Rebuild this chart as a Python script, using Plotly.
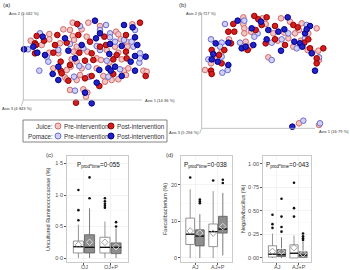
import plotly.graph_objects as go

# ---------------- data ----------------
# PCoA (a): scores (x1000) on Axis 1 / Axis 2
a_juice_pre_x = [-42,5,40,137,-70,-50,-15,88,95,-112,-168,-112,-42,0,-38,102,120,-135,-80,-30,85,122,-112,-85,-40,2,60,95,-45,-30,30,43,68,105,-100,-60,-48,-15,30,112,125,170,180,-65,-20,50,75,95,118,-60,-30,55,-50,-10,2,-2]
a_juice_pre_y = [102,102,92,97,82,80,82,75,67,68,48,52,62,60,50,52,45,35,40,30,30,30,12,10,15,15,20,12,-8,-15,-5,-10,-18,-8,-35,-40,-30,-35,-35,-42,-35,-42,-45,-62,-55,-58,-70,-68,-55,-68,-70,-75,-100,-98,-108,-120]
a_juice_post_x = [-28,160,-88,-150,-128,-25,53,118,-155,-152,-95,-60,58,-155,-100,-22,15,118,-78,-5,20,80,120,-78,-75,-5,15,80,177,-55,38,-32,40,10,90,-50]
a_juice_post_y = [98,102,65,62,48,65,60,65,40,35,35,42,35,10,12,12,10,15,-15,-12,-10,-8,-5,-42,-50,-65,-58,-52,-58,-72,-88,-138,30,45,5,-25]
a_pom_pre_x = [-20,58,40,70,145,-140,70,112,-176,-50,30,140,-120,40,160,-115,60,158,-142,-22,100,-38,8,65,-35,135,160,-10,-85,5,85]
a_pom_pre_y = [92,95,80,70,80,70,58,50,22,38,32,30,0,20,10,-15,-12,-18,-42,-28,-38,-60,-60,-60,-102,45,-5,25,20,-30,45]
a_pom_post_x = [25,112,138,-132,-65,28,145,-188,-148,-15,70,105,152,-125,-55,68,145,177,132,-85,38,65,72,145,-102,105,-85,30,-5,15,-160,40,-35,85]
a_pom_post_y = [108,95,88,60,55,55,58,22,12,35,38,32,35,5,18,8,2,0,-15,-30,-40,-35,-42,-42,-52,-58,-70,-78,-108,-140,30,70,-5,-30]

# PCoA (b)
b_juice_pre_x = [-55,2,12,58,85,165,120,-55,-52,-52,-32,35,68,100,112,140,-98,-48,48,80,118,-120,-35,-52,95,138,170,152,-135,-152,20,172,-170,112,172]
b_juice_pre_y = [148,145,128,145,135,115,130,128,115,100,105,100,102,100,110,100,82,75,78,85,78,45,60,55,60,50,48,42,22,10,28,20,-10,-170,-175]
b_juice_post_x = [-22,-10,15,40,95,-85,-100,-82,-18,108,-92,12,40,128,140,-150,-112,-42,145,185,-128,-120,165,165,-152,-150,70,0]
b_juice_post_y = [152,142,148,122,125,128,105,105,110,118,70,70,82,72,82,50,50,50,55,55,35,10,25,10,-12,-22,65,125]
b_pom_pre_x = [-52,-110,135,-12,80,-152,-120,-65,30,60,130,-125,105,-160,-120,30,172,-102,-118,125,175,-22]
b_pom_pre_y = [138,128,125,100,100,82,72,72,72,82,85,60,55,22,30,20,28,-10,-18,-162,-170,90]
b_pom_post_x = [-72,-2,78,145,-30,20,50,68,130,135,-138,-100,15,98,115,-145,-60,-48,-25,58,122,150,-150,-132,-100,160,92]
b_pom_post_y = [138,135,148,122,115,110,105,112,100,112,70,72,82,75,70,38,55,60,65,48,60,40,22,15,5,-12,-180]

axis_labels_a = ["Axis 1 (14·36 %)", "Axis 2 (5·032 %)", "Axis 3 (4·843 %)"]
axis_labels_b = ["Axis 1 (16·79 %)", "Axis 2 (6·717 %)", "Axis 3 (5·294 %)"]

# Box plot summaries: [group1, group2] ; pre = white, post = grey
c_cats = ["OJ", "OJ+P"]
c_pre = dict(q1=[0.08, 0.08], med=[0.18, 0.17], q3=[0.27, 0.33], lo=[0.0, 0.0], hi=[0.53, 0.58], mean=[0.21, 0.25])
c_post = dict(q1=[0.08, 0.07], med=[0.17, 0.17], q3=[0.37, 0.24], lo=[0.0, 0.0], hi=[0.79, 0.47], mean=[0.25, 0.18])
c_pre_out = [[0.60, 0.76, 1.08], [0.80, 0.83, 0.86, 0.90, 0.95]]
c_post_out = [[0.95, 1.28], [0.50, 0.57]]
c_title = "Uncultured Ruminococcaceae (%)"
c_p = "0·055"

d_cats = ["AJ", "AJ+P"]
d_pre = dict(q1=[3.7, 3.1], med=[6.5, 7.2], q3=[10.9, 9.3], lo=[0.0, 0.0], hi=[18.8, 18.3], mean=[7.4, 6.8])
d_post = dict(q1=[3.3, 6.8], med=[6.0, 7.9], q3=[7.7, 11.4], lo=[0.0, 0.7], hi=[12.0, 17.8], mean=[6.8, 8.6])
d_pre_out = [[22.0], [21.2]]
d_post_out = [[15.0, 15.5, 16.0], [20.5, 21.4]]
d_title = "Faecalibacterium (%)"
d_p = "0·038"

e_cats = ["AJ", "AJ+P"]
e_pre = dict(q1=[0.01, 0.0], med=[0.04, 0.05], q3=[0.13, 0.14], lo=[0.0, 0.0], hi=[0.26, 0.24], mean=[0.07, 0.11])
e_post = dict(q1=[0.015, 0.007], med=[0.035, 0.03], q3=[0.09, 0.065], lo=[0.0, 0.0], hi=[0.22, 0.17], mean=[0.07, 0.045])
e_pre_out = [[0.32, 0.36, 0.46], [0.44, 0.53, 0.80]]
e_post_out = [[0.28, 0.33, 0.44, 0.63], [0.19, 0.21, 0.23, 0.26]]
e_title = "Negativibacillus (%)"
e_p = "0·043"

# ---------------- helpers ----------------
W, H = 350, 270
def PX(x): return x / W
def PY(y): return 1 - y / H

FONT = "Liberation Sans, Arial, sans-serif"
COL = {
    "jpre": ("#f3c6c6", "#d26c6c"),
    "jpost": ("#d21e1e", "#960000"),
    "ppre": ("#d0d0f4", "#6c6cd4"),
    "ppost": ("#2222c6", "#000088"),
}

fig = go.Figure()

def add_pcoa(xs, ys, key, xa, ya):
    fill, line = COL[key]
    fig.add_trace(go.Scatter(x=xs, y=ys, mode="markers", xaxis=xa, yaxis=ya,
                             marker=dict(size=5.6, color=fill, line=dict(color=line, width=1)),
                             showlegend=False, hoverinfo="skip"))

for (xs, ys, k) in [(a_juice_pre_x, a_juice_pre_y, "jpre"), (a_pom_pre_x, a_pom_pre_y, "ppre"),
                    (a_juice_post_x, a_juice_post_y, "jpost"), (a_pom_post_x, a_pom_post_y, "ppost")]:
    add_pcoa(xs, ys, k, "x", "y")
for (xs, ys, k) in [(b_juice_pre_x, b_juice_pre_y, "jpre"), (b_pom_pre_x, b_pom_pre_y, "ppre"),
                    (b_juice_post_x, b_juice_post_y, "jpost"), (b_pom_post_x, b_pom_post_y, "ppost")]:
    add_pcoa(xs, ys, k, "x2", "y2")

OFF = 0.21
BW = 0.38

def add_boxes(stats, outs, side, xa, ya):
    pos = [i + side * OFF for i in range(2)]
    white = side < 0
    fill = "#ffffff" if white else "#8e8e8e"
    line = "#7a7a7a" if white else "#5a5a5a"
    fig.add_trace(go.Box(x=pos, q1=stats["q1"], median=stats["med"], q3=stats["q3"],
                         lowerfence=stats["lo"], upperfence=stats["hi"], width=BW,
                         fillcolor=fill, line=dict(color=line, width=0.8), whiskerwidth=0,
                         xaxis=xa, yaxis=ya, showlegend=False, hoverinfo="skip"))
    mx, my = [], []
    for p, m in zip(pos, stats["med"]):
        mx += [p - BW / 2, p + BW / 2, None]
        my += [m, m, None]
    fig.add_trace(go.Scatter(x=mx, y=my, mode="lines", line=dict(color="#111", width=1.3),
                             xaxis=xa, yaxis=ya, showlegend=False, hoverinfo="skip"))
    ox, oy = [], []
    for p, o in zip(pos, outs):
        ox += [p] * len(o)
        oy += o
    fig.add_trace(go.Scatter(x=ox, y=oy, mode="markers", marker=dict(size=2.6, color="#111"),
                             xaxis=xa, yaxis=ya, showlegend=False, hoverinfo="skip"))
    fig.add_trace(go.Scatter(x=pos, y=stats["mean"], mode="markers",
                             marker=dict(symbol="diamond-open", size=5,
                                         color="#8a8a8a" if white else "#eeeeee",
                                         line=dict(width=0.8)),
                             xaxis=xa, yaxis=ya, showlegend=False, hoverinfo="skip"))

add_boxes(c_pre, c_pre_out, -1, "x3", "y3"); add_boxes(c_post, c_post_out, 1, "x3", "y3")
add_boxes(d_pre, d_pre_out, -1, "x4", "y4"); add_boxes(d_post, d_post_out, 1, "x4", "y4")
add_boxes(e_pre, e_pre_out, -1, "x5", "y5"); add_boxes(e_post, e_post_out, 1, "x5", "y5")

hidden = dict(visible=False, showgrid=False, zeroline=False)
tickfont = dict(family=FONT, size=5.5, color="#4d4d4d")

def box_x(domain, rng, anchor):
    return dict(domain=domain, range=rng, tickvals=[0, 1], showticklabels=False, anchor=anchor,
                showgrid=True, gridcolor="#ebebeb", gridwidth=0.6, zeroline=False,
                showline=True, linecolor="#bdbdbd", linewidth=0.8, mirror=True,
                ticks="outside", ticklen=2, tickcolor="#555", fixedrange=True)

def box_y(domain, rng, tv, tt, minor, anchor):
    return dict(domain=domain, range=rng, tickvals=tv, ticktext=tt, tickfont=tickfont, anchor=anchor,
                showgrid=True, gridcolor="#ebebeb", gridwidth=0.6, zeroline=False,
                minor=dict(tickvals=minor, showgrid=True, gridcolor="#f5f5f5", gridwidth=0.5),
                showline=True, linecolor="#bdbdbd", linewidth=0.8, mirror=True,
                ticks="outside", ticklen=2, tickcolor="#555", fixedrange=True)

ydom = [PY(262), PY(156)]
fig.update_layout(
    width=W, height=H, margin=dict(l=0, r=0, t=0, b=0),
    paper_bgcolor="white", plot_bgcolor="white", showlegend=False,
    font=dict(family=FONT, color="#222"),
    xaxis=dict(domain=[0, 0.5], range=[-260, 265], **hidden),
    yaxis=dict(domain=[PY(110), 1], range=[-160, 170], **hidden),
    xaxis2=dict(domain=[0.5, 1], range=[-260, 265], **hidden),
    yaxis2=dict(domain=[PY(135), 1], range=[-205, 200], **hidden),
    xaxis3=box_x([PX(67), PX(128)], [-0.64, 1.66], "y3"),
    yaxis3=box_y(ydom, [-0.063, 1.62], [0, 0.5, 1.0, 1.5], ["0·0", "0·5", "1·0", "1·5"], [0.25, 0.75, 1.25], "x3"),
    xaxis4=box_x([PX(181), PX(232)], [-0.61, 1.61], "y4"),
    yaxis4=box_y(ydom, [-1.1, 27.9], [0, 10, 20], ["0", "10", "20"], [5, 15, 25], "x4"),
    xaxis5=box_x([PX(263), PX(311)], [-0.65, 1.58], "y5"),
    yaxis5=box_y(ydom, [-0.043, 1.085], [0, 0.25, 0.5, 0.75, 1.0], ["0·00", "0·25", "0·50", "0·75", "1·00"],
                 [0.125, 0.375, 0.625, 0.875], "x5"),
)

# PCoA axis lines
axc = dict(color="#b0b0b0", width=0.8)
shapes = [
    dict(type="line", xref="x", yref="y", x0=-190, y0=-130, x1=-190, y1=130, line=axc),
    dict(type="line", xref="x", yref="y", x0=-190, y0=-130, x1=166, y1=-130, line=axc),
    dict(type="line", xref="x", yref="y", x0=-190, y0=-130, x1=-196, y1=-148, line=axc),
    dict(type="line", xref="x2", yref="y2", x0=-180, y0=-185, x1=-180, y1=160, line=axc),
    dict(type="line", xref="x2", yref="y2", x0=-180, y0=-185, x1=160, y1=-185, line=axc),
    dict(type="line", xref="x2", yref="y2", x0=-180, y0=-185, x1=-186, y1=-200, line=axc),
    dict(type="rect", xref="paper", yref="paper", x0=PX(23), x1=PX(167), y0=PY(142), y1=PY(120),
         line=dict(color="#666", width=0.8), fillcolor="white"),
]
# legend symbols
for (cx, cy, k) in [(58, 126, "jpre"), (111, 126, "jpost"), (58, 136, "ppre"), (111, 136, "ppost")]:
    fill, line = COL[k]
    shapes.append(dict(type="circle", xref="paper", yref="paper", x0=PX(cx - 3), x1=PX(cx + 3),
                       y0=PY(cy + 3), y1=PY(cy - 3), fillcolor=fill, line=dict(color=line, width=1)))
fig.update_layout(shapes=shapes)

ann = []
def T(text, x, y, size, xanchor="center", yanchor="middle", angle=0, color="#333", bg=None):
    d = dict(text=text, x=PX(x), y=PY(y), xref="paper", yref="paper", showarrow=False,
             xanchor=xanchor, yanchor=yanchor, textangle=angle,
             font=dict(family=FONT, size=size, color=color))
    if bg:
        d["bgcolor"] = bg
        d["borderpad"] = 0
    ann.append(d)

T("(a)", 1, 5, 6, "left")
T("(b)", 177, 5, 6, "left")
T("(c)", 44, 155, 6, "left")
T("(d)", 164, 155, 6, "left")
T(axis_labels_a[1], 24, 13, 4)
T(axis_labels_a[0], 143, 100, 4, "left")
T(axis_labels_a[2], 0, 109, 4, "left")
T(axis_labels_b[1], 201, 13, 4)
T(axis_labels_b[0], 317, 131, 4, "left")
T(axis_labels_b[2], 201, 132, 4, "right")
T("Juice:", 55, 126, 6.3, "right")
T("Pomace:", 55, 136, 6.3, "right")
for yy in (126, 136):
    T("Pre-intervention", 62, yy, 6.3, "left")
    T("Post-intervention", 115, yy, 6.3, "left")
T(c_title, 48, 209, 5.5, angle=-90)
T(d_title, 165, 209, 5.5, angle=-90)
T(e_title, 243, 209, 5.5, angle=-90)
for (cx, p) in [(98, c_p), (206, d_p), (287, e_p)]:
    T("P<sub>prod*time</sub>=" + p, cx, 165, 6.3, color="#111111", bg="white")
# category labels under box plots
for (xs, cats) in [((84, 110.5), c_cats), ((195, 218), d_cats), ((277, 298.5), e_cats)]:
    for x0, c in zip(xs, cats):
        T(c, x0, 266.5, 5.5, color="#4d4d4d")
fig.update_layout(annotations=ann)

fig.write_html("out.html", config={"displayModeBar": False, "staticPlot": True},
               post_script="document.body.style.margin='0';document.body.style.overflow='hidden';")
